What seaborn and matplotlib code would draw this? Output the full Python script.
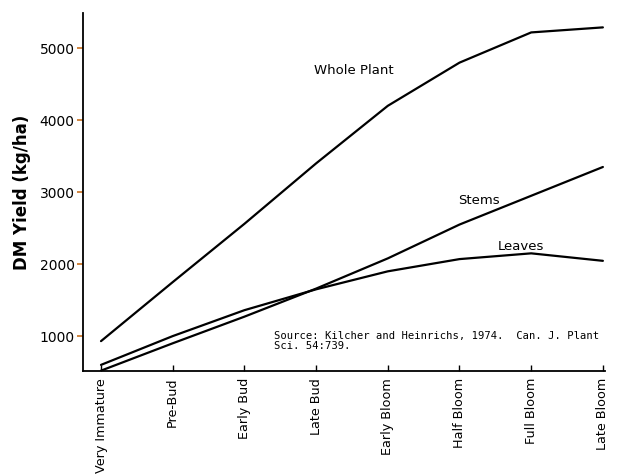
import numpy as np
import pandas as pd
import seaborn as sns
import matplotlib.pyplot as plt

stages = ["Very Immature", "Pre-Bud", "Early Bud", "Late Bud",
          "Early Bloom", "Half Bloom", "Full Bloom", "Late Bloom"]
whole_plant = [930, 1750, 2560, 3400, 4200, 4800, 5220, 5290]
stems = [520, 900, 1270, 1660, 2080, 2550, 2950, 3350]
leaves = [600, 1000, 1360, 1650, 1900, 2070, 2150, 2046]
y_ticks = [1000, 2000, 3000, 4000, 5000]

df = pd.DataFrame({
    "stage": list(range(len(stages))) * 3,
    "yield": whole_plant + stems + leaves,
    "part": ["Whole Plant"] * 8 + ["Stems"] * 8 + ["Leaves"] * 8,
})

sns.set_style("ticks")
plt.rcParams["font.family"] = ["DejaVu Sans"]
plt.rcParams["text.color"] = "black"
plt.rcParams["axes.labelcolor"] = "black"

fig = plt.figure(figsize=(6.41, 4.74), dpi=100)
ax = fig.add_axes([0.1295, 0.2173, 0.8144, 0.7553])

sns.lineplot(data=df, x="stage", y="yield", units="part", estimator=None,
             color="black", linewidth=1.6, ax=ax, legend=False)

ax.set_xlim(-0.251, 7.03)
ax.set_ylim(515, 5490)
ax.set_yticks(y_ticks)
ax.set_yticklabels([str(v) for v in y_ticks], fontsize=10, color="black")
ax.set_xticks(range(len(stages)))
ax.set_xticklabels(stages, rotation=90, fontsize=9.2, va="top", color="black")
ax.tick_params(axis="x", direction="in", length=4, width=1, pad=5,
               color="black")
ax.tick_params(axis="y", direction="out", length=4, width=1.2,
               color="#c8701e", pad=2)
for s in ["top", "right"]:
    ax.spines[s].set_visible(False)
for s in ["left", "bottom"]:
    ax.spines[s].set_linewidth(1.3)
    ax.spines[s].set_color("black")

ax.set_xlabel("")
ax.set_ylabel("DM Yield (kg/ha)", fontsize=12, fontweight="bold", labelpad=6)

ax.text(3.53, 4694, "Whole Plant", fontsize=9.5, ha="center", va="center")
ax.text(5.27, 2889, "Stems", fontsize=9.5, ha="center", va="center")
ax.text(5.86, 2250, "Leaves", fontsize=9.5, ha="center", va="center")
ax.text(2.41, 930, "Source: Kilcher and Heinrichs, 1974.  Can. J. Plant\nSci. 54:739.",
        fontsize=7.6, family="monospace", ha="left", va="center",
        linespacing=0.95)

fig.savefig("out.png", dpi=100, facecolor="white")
